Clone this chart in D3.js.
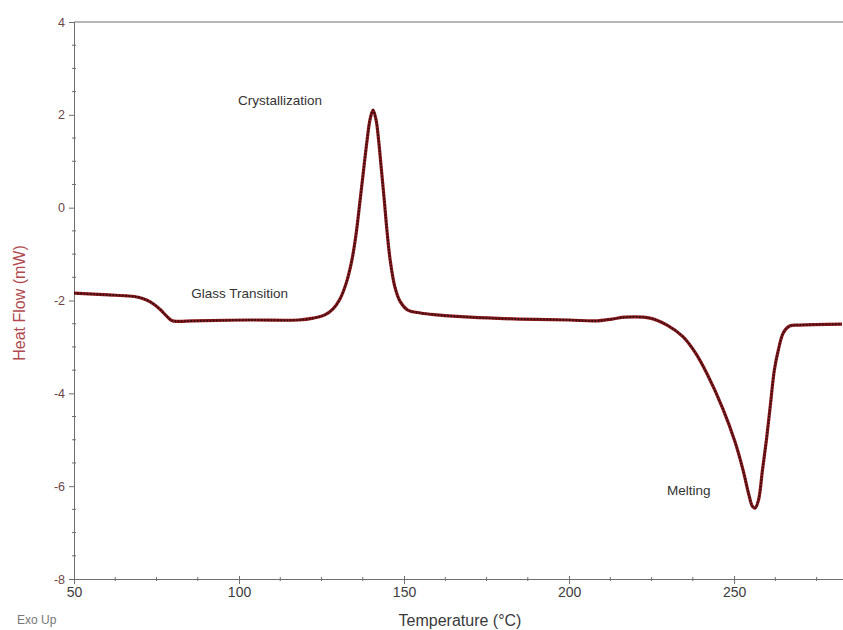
<!DOCTYPE html>
<html>
<head>
<meta charset="utf-8">
<script src="https://cdn.jsdelivr.net/npm/d3@7"></script>
<style>
  body { margin: 0; background: #fff; }
  text { font-family: Arial, "Liberation Sans", sans-serif; }
</style>
</head>
<body>
<div id="chart"></div>
<script>
// DSC curve
var temperature = [50, 60.6, 66, 69.5, 72, 74.2, 76.2, 78, 79.6, 81.5, 86, 103, 118,
  122.5, 126, 128.5, 130.5, 132.5, 134.2, 135.5, 136.7, 137.8, 138.8, 139.7, 140.6,
  141.5, 142.3, 143.1, 144.0, 144.9, 145.8, 147.2, 148.8, 151, 155, 160, 170, 185, 200,
  208, 213, 217, 224.5, 229.7, 234.5, 238.2, 241.8, 246.7, 250.3, 252.7, 254.5, 255.6,
  256.4, 257.4, 258.6, 259.8, 261, 262.2, 263.4, 264.9, 266.8, 269.7, 282.7];
var heat_flow = [-1.84, -1.88, -1.90, -1.93, -1.99, -2.08, -2.20, -2.33, -2.43, -2.45, -2.44, -2.42, -2.42,
  -2.38, -2.31, -2.18, -1.98, -1.62, -1.13, -0.55, 0.17, 0.85, 1.45, 1.90, 2.10,
  1.90, 1.45, 0.85, 0.17, -0.55, -1.13, -1.70, -2.02, -2.20, -2.27, -2.31, -2.36, -2.40, -2.42,
  -2.44, -2.40, -2.36, -2.38, -2.53, -2.78, -3.12, -3.58, -4.35, -5.05, -5.65, -6.19, -6.44,
  -6.47, -6.30, -5.65, -5.00, -4.25, -3.50, -3.07, -2.70, -2.55, -2.53, -2.51];

var x_major = [50, 100, 150, 200, 250];
var x_minor = [62.5, 75, 87.5, 112.5, 125, 137.5, 162.5, 175, 187.5, 212.5, 225, 237.5, 262.5, 275];
var y_major = [-8, -6, -4, -2, 0, 2, 4];
var y_minor = [-7.5, -7, -6.5, -5.5, -5, -4.5, -3.5, -3, -2.5, -1.5, -1, -0.5, 0.5, 1, 1.5, 2.5, 3, 3.5];

var annotations = [
  {text: 'Crystallization', t: 99.7, v: 2.22},
  {text: 'Glass Transition', t: 85.5, v: -1.95},
  {text: 'Melting', t: 229.7, v: -6.2}
];

var chart_width = 843;
var chart_height = 630;

var svg = d3.select('#chart')
  .append('svg')
  .attr('width', chart_width)
  .attr('height', chart_height);

// scales
var x_scale = d3.scaleLinear().domain([50, 283]).range([74, 843]);
var y_scale = d3.scaleLinear().domain([-8, 4]).range([579, 22]);

var axis_color = '#6e6e6e';

// top frame line
svg.append('line')
  .attr('x1', x_scale(50)).attr('x2', chart_width)
  .attr('y1', y_scale(4)).attr('y2', y_scale(4))
  .attr('stroke', axis_color);

// y axis
var y_axis = svg.append('g')
  .attr('transform', 'translate(' + x_scale(50) + ',0)')
  .call(d3.axisLeft(y_scale).tickValues(y_major).tickSize(5).tickFormat(d3.format('d')));
y_axis.select('.domain').attr('stroke', axis_color);
y_axis.selectAll('.tick line').attr('stroke', axis_color);
y_axis.selectAll('.tick text')
  .attr('fill', '#6b4648')
  .attr('font-size', 12.5)
  .attr('x', -9)
  .text((d) => d < 0 ? '-' + Math.abs(d) : d);

svg.selectAll('line.yminor')
  .data(y_minor)
  .enter()
  .append('line')
  .attr('class', 'yminor')
  .attr('x1', x_scale(50) - 2).attr('x2', x_scale(50) + 2)
  .attr('y1', (d) => y_scale(d)).attr('y2', (d) => y_scale(d))
  .attr('stroke', axis_color);

// x axis
var x_axis = svg.append('g')
  .attr('transform', 'translate(0,' + y_scale(-8) + ')')
  .call(d3.axisBottom(x_scale).tickValues(x_major).tickSize(5).tickSizeOuter(0));
x_axis.select('.domain').attr('stroke', axis_color);
x_axis.selectAll('.tick line').attr('stroke', axis_color).attr('y1', -3);
x_axis.selectAll('.tick text')
  .attr('fill', '#3c3c3c')
  .attr('font-size', 14)
  .attr('dy', '0.85em')
  .attr('y', 6);

svg.selectAll('line.xminor')
  .data(x_minor)
  .enter()
  .append('line')
  .attr('class', 'xminor')
  .attr('x1', (d) => x_scale(d)).attr('x2', (d) => x_scale(d))
  .attr('y1', y_scale(-8) - 2).attr('y2', y_scale(-8) + 2)
  .attr('stroke', axis_color);

// axis titles
svg.append('text')
  .text('Temperature (°C)')
  .attr('x', 460).attr('y', 626)
  .attr('text-anchor', 'middle')
  .attr('font-size', 16)
  .attr('fill', '#3a3a3a');

svg.append('text')
  .text('Heat Flow (mW)')
  .attr('transform', 'translate(25,303) rotate(-90)')
  .attr('text-anchor', 'middle')
  .attr('font-size', 16)
  .attr('fill', '#b04a4e');

svg.append('text')
  .text('Exo Up')
  .attr('x', 17).attr('y', 624)
  .attr('font-size', 12)
  .attr('fill', '#777');

// curve
var points = temperature.map((t, i) => [t, heat_flow[i]]);
var line = d3.line()
  .x((d) => x_scale(d[0]))
  .y((d) => y_scale(d[1]))
  .curve(d3.curveCatmullRom.alpha(0.5));

svg.append('path')
  .datum(points)
  .attr('d', line)
  .attr('fill', 'none')
  .attr('stroke', '#8a1a1e')
  .attr('stroke-width', 3.2)
  .attr('stroke-linejoin', 'round');

// marker dots on the trace
svg.append('path')
  .datum(points)
  .attr('d', line)
  .attr('fill', 'none')
  .attr('stroke', '#2e0c0e')
  .attr('stroke-width', 1.8)
  .attr('stroke-dasharray', '1.6 1.6');

// labels
svg.selectAll('text.note')
  .data(annotations)
  .enter()
  .append('text')
  .attr('class', 'note')
  .text((d) => d.text)
  .attr('x', (d) => x_scale(d.t))
  .attr('y', (d) => y_scale(d.v))
  .attr('font-size', 13.5)
  .attr('fill', '#333');
</script>
</body>
</html>
